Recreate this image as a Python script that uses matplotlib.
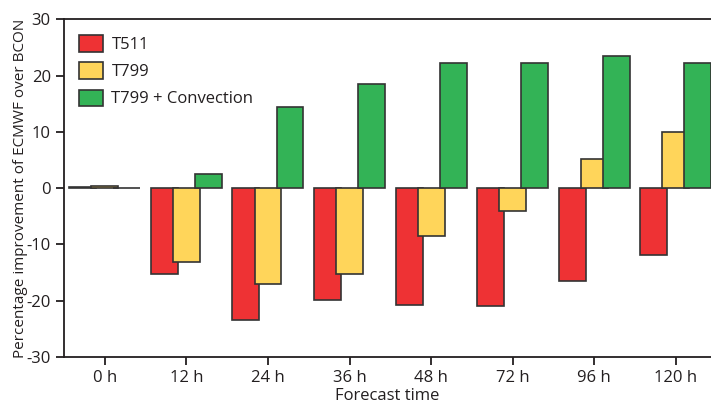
import numpy as np
from matplotlib import pyplot as plt

plt.rcParams['font.family'] = ['Open Sans', 'DejaVu Sans']
plt.rcParams['axes.unicode_minus'] = False

# Data
hours = ["0 h", "12 h", "24 h", "36 h", "48 h", "72 h", "96 h", "120 h"]
t511 = [0.3, -15.2, -23.4, -19.9, -20.8, -20.9, -16.4, -11.9]
t799 = [0.4, -13.2, -17.1, -15.2, -8.5, -4.0, 5.2, 9.9]
t799_conv = [0.1, 2.5, 14.5, 18.5, 22.3, 22.3, 23.5, 22.3]

ink = "#231f20"
x = np.arange(len(hours))
width = 0.33
step = 0.27

fig = plt.figure(figsize=(7.11, 4.03), dpi=100)
ax = fig.add_axes([0.090, 0.114, 0.91, 0.838])

ax.bar(x - step, t511, width, color="#ee3234", edgecolor="#333333", linewidth=1.2, label="T511", zorder=2)
ax.bar(x, t799, width, color="#ffd55a", edgecolor="#333333", linewidth=1.2, label="T799", zorder=3)
ax.bar(x + step, t799_conv, width, color="#33b356", edgecolor="#333333", linewidth=1.2,
       label="T799 + Convection", zorder=4)

ax.set_xlim(-0.5, 7.43)
ax.set_ylim(-30, 30)
ax.set_yticks([-30, -20, -10, 0, 10, 20, 30])
ax.set_xticks(x)
ax.set_xticklabels(hours)
ax.tick_params(axis='both', direction='out', length=6, width=1.3, colors=ink, labelsize=12)

for side in ['left', 'bottom', 'top']:
    ax.spines[side].set_color(ink)
    ax.spines[side].set_linewidth(1.3)
ax.spines['right'].set_visible(False)

ax.set_xlabel("Forecast time", fontsize=12, color=ink, labelpad=1)
ax.set_ylabel("Percentage improvement of ECMWF over BCON", fontsize=11, color=ink, labelpad=-1)

ax.legend(loc='upper left', bbox_to_anchor=(0.0, 0.997), frameon=False, fontsize=12,
          handlelength=1.45, handleheight=1.15, labelspacing=0.55, handletextpad=0.5,
          labelcolor=ink)

fig.savefig("out.png", dpi=100)
